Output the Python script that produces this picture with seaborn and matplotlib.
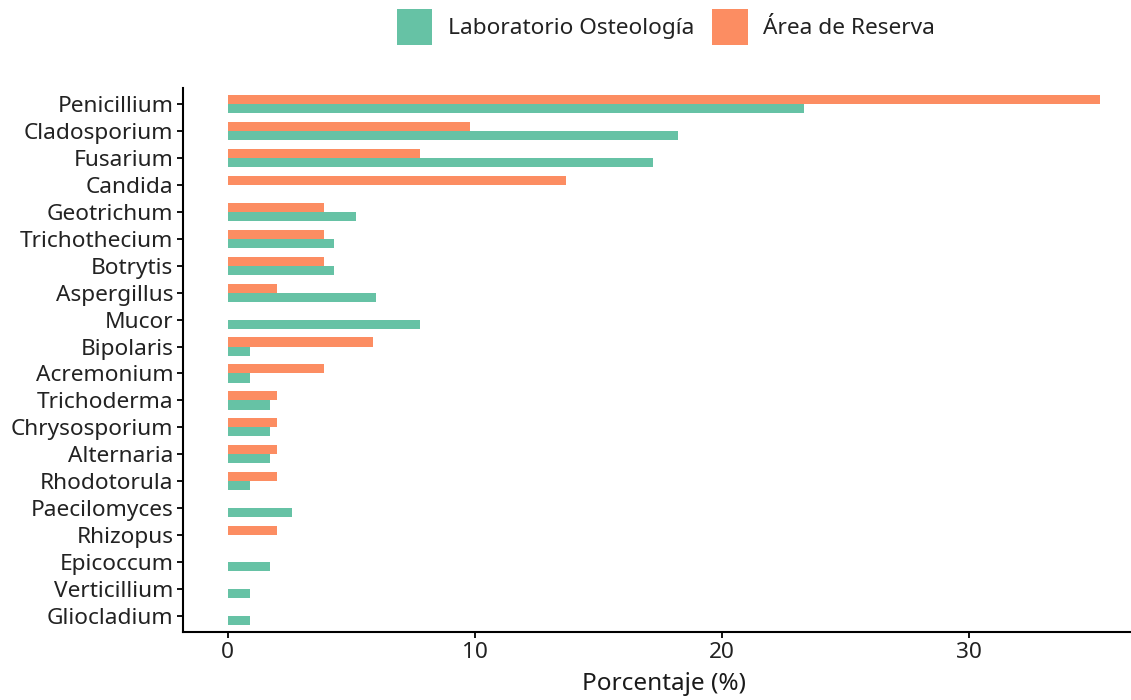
import matplotlib
matplotlib.use("Agg")
import matplotlib.pyplot as plt
import seaborn as sns
import pandas as pd
from matplotlib.patches import Patch

# Fungal genera, ordered top to bottom
genera = [
    "Penicillium", "Cladosporium", "Fusarium", "Candida", "Geotrichum",
    "Trichothecium", "Botrytis", "Aspergillus", "Mucor", "Bipolaris",
    "Acremonium", "Trichoderma", "Chrysosporium", "Alternaria", "Rhodotorula",
    "Paecilomyces", "Rhizopus", "Epicoccum", "Verticillium", "Gliocladium",
]

# Relative frequency (%) per site
laboratorio = [23.3, 18.2, 17.2, 0.0, 5.2, 4.3, 4.3, 6.0, 7.8, 0.9,
               0.9, 1.7, 1.7, 1.7, 0.9, 2.6, 0.0, 1.7, 0.9, 0.9]
reserva = [35.3, 9.8, 7.8, 13.7, 3.9, 3.9, 3.9, 2.0, 0.0, 5.9,
           3.9, 2.0, 2.0, 2.0, 2.0, 0.0, 2.0, 0.0, 0.0, 0.0]

sites = ["Laboratorio Osteología", "Área de Reserva"]
site_colors = {"Laboratorio Osteología": "#66C2A5", "Área de Reserva": "#FC8D62"}
x_ticks = [0, 10, 20, 30]

df = pd.DataFrame({
    "Género": genera * 2,
    "Porcentaje": laboratorio + reserva,
    "Sitio": [sites[0]] * len(genera) + [sites[1]] * len(genera),
})

sns.set_theme(style="ticks")
plt.rcParams["font.family"] = ["Noto Sans", "DejaVu Sans"]

fig = plt.figure(figsize=(11.31, 7.0), dpi=100)
# panel runs slightly past the right edge of the canvas
ax = fig.add_axes([0.1618, 0.0971, 0.8497, 0.7772])

sns.barplot(
    data=df, y="Género", x="Porcentaje", hue="Sitio",
    order=genera, hue_order=[sites[1], sites[0]],
    palette=site_colors, orient="h", width=0.68, saturation=1,
    linewidth=0, errorbar=None, ax=ax, legend=False,
)

ax.set_xlim(-1.8, 37.06)
ax.set_ylim(len(genera) - 0.4, -0.6)
ax.set_xticks(x_ticks)
ax.set_xlabel("Porcentaje (%)", fontsize=17.5, color="#1a1a1a", labelpad=7)
ax.set_ylabel("")

for side in ["top", "right"]:
    ax.spines[side].set_visible(False)
for side in ["left", "bottom"]:
    ax.spines[side].set_linewidth(1.5)
    ax.spines[side].set_color("black")
ax.tick_params(axis="both", length=4, width=1.3, color="black",
               labelsize=16.3, labelcolor="#222222", pad=3)

handles = [Patch(facecolor=site_colors[s], edgecolor="none", label=s) for s in sites]
fig.legend(
    handles=handles, loc="center", bbox_to_anchor=(0.589, 0.962), ncol=2,
    frameon=False, fontsize=16.3, handlelength=1.55, handleheight=2.07,
    handletextpad=0.7, columnspacing=0.8, labelcolor="#222222",
)

fig.savefig("out.png", dpi=100)
